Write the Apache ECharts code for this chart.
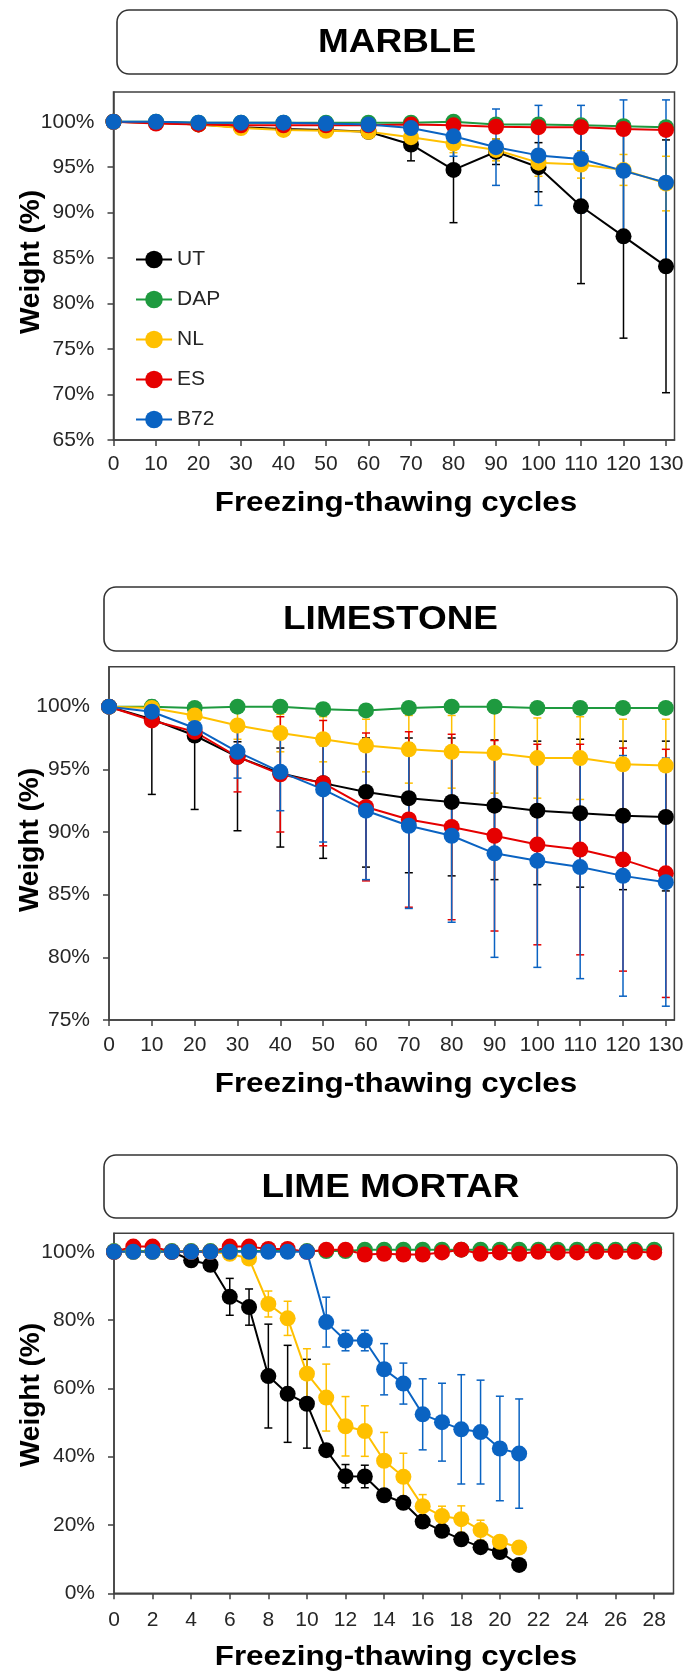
<!DOCTYPE html>
<html>
<head>
<meta charset="utf-8">
<script src="https://cdn.jsdelivr.net/npm/echarts@6/dist/echarts.min.js"></script>
<style>
  html, body { margin: 0; padding: 0; background: #ffffff; }
  #chart { width: 689px; height: 1675px; }
</style>
</head>
<body>
<div id="chart"></div>
<script>
// ---- Treatments ----
const treatmentNames = ['UT', 'DAP', 'NL', 'ES', 'B72'];
const treatmentColors = ['#000000', '#1e9a3f', '#ffc000', '#e50000', '#0a63c2'];

// ---- MARBLE (weight %, mean and standard deviation) ----
const marbleCycles = [0, 10, 20, 30, 40, 50, 60, 70, 80, 90, 100, 110, 120, 130];
const marbleUT     = [100, 99.9, 99.7, 99.4, 99.2, 99.1, 98.9, 97.5, 94.7, 96.7, 95.0, 90.7, 87.4, 84.1];
const marbleUTErr  = [0, 0.1, 0.1, 0.1, 0.1, 0.1, 0.2, 1.8, 5.8, 1.4, 2.7, 8.5, 11.2, 13.9];
const marbleDAP    = [100, 100, 99.9, 99.9, 99.9, 99.9, 99.9, 99.9, 100, 99.7, 99.7, 99.6, 99.5, 99.4];
const marbleDAPErr = [0, 0.1, 0.1, 0.1, 0.1, 0.1, 0.1, 0.1, 0.2, 0.2, 0.2, 0.2, 0.2, 0.2];
const marbleNL     = [100, 99.9, 99.7, 99.3, 99.1, 99.0, 98.9, 98.3, 97.6, 96.9, 95.5, 95.3, 94.7, 93.2];
const marbleNLErr  = [0, 0, 0.1, 0.1, 0.1, 0.2, 0.2, 0.5, 1.0, 1.2, 1.5, 1.5, 1.7, 3.0];
const marbleES     = [100, 99.8, 99.7, 99.6, 99.6, 99.6, 99.6, 99.7, 99.6, 99.45, 99.4, 99.4, 99.2, 99.1];
const marbleESErr  = [0, 0.1, 0.1, 0.1, 0.1, 0.1, 0.1, 0.1, 0.2, 0.2, 0.2, 0.2, 0.2, 0.2];
const marbleB72    = [100, 100, 99.9, 99.9, 99.9, 99.8, 99.7, 99.3, 98.4, 97.2, 96.3, 95.9, 94.6, 93.3];
const marbleB72Err = [0, 0, 0, 0, 0, 0, 0.1, 0.4, 2.2, 4.2, 5.5, 5.9, 7.8, 9.1];
const marbleYTicks = [65, 70, 75, 80, 85, 90, 95, 100];
const marbleXTicks = [0, 10, 20, 30, 40, 50, 60, 70, 80, 90, 100, 110, 120, 130];

// ---- LIMESTONE ----
const limestoneCycles = [0, 10, 20, 30, 40, 50, 60, 70, 80, 90, 100, 110, 120, 130];
const limestoneUT        = [100, 99.0, 97.7, 96.0, 94.7, 93.9, 93.2, 92.7, 92.4, 92.1, 91.7, 91.5, 91.3, 91.2];
const limestoneUTErr     = [0, 6.0, 5.9, 5.9, 5.9, 6.0, 6.0, 5.95, 5.9, 5.9, 5.9, 5.9, 5.9, 5.9];
const limestoneUTErrPlus = [0, 1.5, 0.8, 1.2, 2.0, 3.0, 4.3, 4.8, 5.1, 5.25, 5.55, 5.9, 5.95, 6.05];
const limestoneDAP    = [100, 100, 99.9, 100, 100, 99.8, 99.7, 99.9, 100, 100, 99.9, 99.9, 99.9, 99.9];
const limestoneDAPErr = [0, 0.1, 0.1, 0.1, 0.1, 0.1, 0.1, 0.1, 0.1, 0.1, 0.1, 0.1, 0.1, 0.1];
const limestoneNL     = [100, 99.9, 99.3, 98.5, 97.9, 97.4, 96.9, 96.6, 96.4, 96.3, 95.9, 95.9, 95.4, 95.3];
const limestoneNLErr  = [0, 0.3, 0.6, 1.1, 1.5, 1.8, 2.1, 2.7, 2.9, 3.2, 3.2, 3.3, 3.6, 3.7];
const limestoneES     = [100, 98.9, 98.0, 96.0, 94.6, 93.9, 92.0, 91.0, 90.4, 89.7, 89.0, 88.6, 87.8, 86.7];
const limestoneESErr  = [0, 0.3, 0.5, 2.8, 4.6, 5.0, 5.9, 7.0, 7.4, 7.6, 8.0, 8.4, 8.9, 9.9];
const limestoneB72    = [100, 99.6, 98.3, 96.4, 94.8, 93.4, 91.7, 90.5, 89.7, 88.3, 87.7, 87.2, 86.5, 86.0];
const limestoneB72Err = [0, 0.2, 0.5, 2.1, 3.1, 4.2, 5.5, 6.6, 6.9, 8.3, 8.5, 8.9, 9.6, 9.9];
const limestoneYTicks = [75, 80, 85, 90, 95, 100];
const limestoneXTicks = [0, 10, 20, 30, 40, 50, 60, 70, 80, 90, 100, 110, 120, 130];

// ---- LIME MORTAR ----
const mortarCycles = [0, 1, 2, 3, 4, 5, 6, 7, 8, 9, 10, 11, 12, 13, 14, 15, 16, 17, 18, 19, 20, 21, 22, 23, 24, 25, 26, 27, 28];
const mortarUT     = [100, 100, 100, 100, 97.5, 96.2, 86.8, 83.8, 63.6, 58.4, 55.5, 41.9, 34.3, 34.2, 28.7, 26.5, 21.0, 18.3, 15.8, 13.5, 12.1, 8.3];
const mortarUTErr  = [0, 0, 0, 0, 0.5, 0.5, 5.4, 5.3, 15.2, 14.2, 13.0, 0.5, 3.4, 3.3, 1.5, 1.0, 1.0, 1.0, 1.0, 1.0, 1.0, 1.0];
const mortarDAP    = [100.2, 100.2, 100.2, 100.2, 100.2, 100.2, 100.2, 100.2, 100.2, 100.2, 100.2, 100.2, 100.2,
                      100.6, 100.6, 100.6, 100.6, 100.6, 100.6, 100.6, 100.6, 100.6, 100.6, 100.6, 100.6, 100.6, 100.6, 100.6, 100.6];
const mortarNL     = [100, 100, 100, 100, 100, 100, 99.4, 98.0, 84.7, 80.5, 64.3, 57.3, 48.9, 47.5, 38.8, 34.1, 25.5, 22.6, 21.7, 18.5, 15.1, 13.4];
const mortarNLErr  = [0, 0, 0, 0, 0, 0, 0.3, 0.5, 3.8, 5.0, 7.3, 9.8, 8.7, 7.4, 8.3, 6.9, 3.4, 2.9, 3.9, 2.9, 1.5, 1.5];
const mortarES     = [100, 101.5, 101.5, 100, 100, 100, 101.5, 101.5, 100.8, 100.8, 100, 100.6, 100.6, 99.2, 99.4, 99.2,
                      99.2, 99.8, 100.6, 99.4, 99.8, 99.4, 100, 99.8, 99.8, 100, 100, 100, 99.8];
const mortarB72    = [100, 100, 100, 100, 100, 100, 100, 100, 100, 100, 100, 79.4, 74.0, 74.0, 65.6, 61.4, 52.4, 50.1, 48.0, 47.2, 42.4, 40.9];
const mortarB72Err = [0, 0, 0, 0, 0, 0, 0, 0, 0, 0, 0, 7.3, 3.0, 3.0, 7.5, 6.0, 10.4, 11.4, 16.0, 15.2, 15.3, 16.0];
const mortarYTicks = [0, 20, 40, 60, 80, 100];
const mortarXTicks = [0, 2, 4, 6, 8, 10, 12, 14, 16, 18, 20, 22, 24, 26, 28];

// ---- Panel layout ----
const FONT = '"Liberation Sans", Arial, sans-serif';
const AXIS_COLOR = '#404040';
const LABEL_COLOR = '#262626';

const panels = [
  {
    title: 'MARBLE', box: [117, 10, 560, 64],
    grid: { left: 113.5, top: 92, width: 561, height: 348 },
    xMax: 132, yMin: 65, yMax: 103.27, xTicks: marbleXTicks, yTicks: marbleYTicks,
    xLabelMargin: 14, xTitleY: 503, yTitleX: 31, yTitleY: 262,
    cycles: marbleCycles,
    series: [
      [marbleUT, marbleUTErr], [marbleDAP, marbleDAPErr], [marbleNL, marbleNLErr],
      [marbleES, marbleESErr], [marbleB72, marbleB72Err]
    ]
  },
  {
    title: 'LIMESTONE', box: [104, 587, 573, 64],
    grid: { left: 109, top: 666.7, width: 565.4, height: 353.3 },
    xMax: 132, yMin: 75, yMax: 103.19, xTicks: limestoneXTicks, yTicks: limestoneYTicks,
    xLabelMargin: 15, xTitleY: 1084, yTitleX: 30, yTitleY: 840,
    cycles: limestoneCycles,
    series: [
      [limestoneUT, limestoneUTErr, limestoneUTErrPlus], [limestoneDAP, limestoneDAPErr],
      [limestoneNL, limestoneNLErr], [limestoneES, limestoneESErr], [limestoneB72, limestoneB72Err]
    ]
  },
  {
    title: 'LIME MORTAR', box: [104, 1155, 573, 63],
    grid: { left: 114, top: 1233.3, width: 559.5, height: 360 },
    xMax: 29, yMin: 0, yMax: 105.4, xTicks: mortarXTicks, yTicks: mortarYTicks,
    xLabelMargin: 16, xTitleY: 1657, yTitleX: 31, yTitleY: 1395,
    cycles: mortarCycles,
    series: [
      [mortarUT, mortarUTErr], [mortarDAP, null], [mortarNL, mortarNLErr],
      [mortarES, null], [mortarB72, mortarB72Err]
    ]
  }
];

// Draws one vertical error bar with caps, clipped to the value axis range.
function makeErrorBar(color, yMin, yMax) {
  return function (params, api) {
    const x = api.value(0), lo = api.value(1), hi = api.value(2);
    const loC = Math.max(lo, yMin), hiC = Math.min(hi, yMax);
    const pLo = api.coord([x, loC]);
    const pHi = api.coord([x, hiC]);
    const half = 4;
    const style = { stroke: color, lineWidth: 1.5 };
    const children = [
      { type: 'line', shape: { x1: pLo[0], y1: pLo[1], x2: pHi[0], y2: pHi[1] }, style: style }
    ];
    if (lo >= yMin) {
      children.push({ type: 'line', shape: { x1: pLo[0] - half, y1: pLo[1], x2: pLo[0] + half, y2: pLo[1] }, style: style });
    }
    if (hi <= yMax) {
      children.push({ type: 'line', shape: { x1: pHi[0] - half, y1: pHi[1], x2: pHi[0] + half, y2: pHi[1] }, style: style });
    }
    return { type: 'group', children: children };
  };
}

const grids = [], xAxes = [], yAxes = [], series = [], graphics = [];

panels.forEach(function (p, pi) {
  grids.push(Object.assign({ show: true, borderColor: AXIS_COLOR, borderWidth: 1.5, backgroundColor: 'transparent' }, p.grid));

  xAxes.push({
    type: 'value', gridIndex: pi, min: 0, max: p.xMax,
    axisLine: { show: true, onZero: false, lineStyle: { color: AXIS_COLOR, width: 1.5 } },
    axisTick: { show: true, length: 6, customValues: p.xTicks, lineStyle: { color: AXIS_COLOR, width: 1.5 } },
    axisLabel: { customValues: p.xTicks, margin: p.xLabelMargin, fontFamily: FONT, fontSize: 21, color: LABEL_COLOR },
    splitLine: { show: false }
  });
  yAxes.push({
    type: 'value', gridIndex: pi, min: p.yMin, max: p.yMax,
    axisLine: { show: true, onZero: false, lineStyle: { color: AXIS_COLOR, width: 1.5 } },
    axisTick: { show: true, length: 6, customValues: p.yTicks, lineStyle: { color: AXIS_COLOR, width: 1.5 } },
    axisLabel: { customValues: p.yTicks, margin: 19, fontFamily: FONT, fontSize: 21, color: LABEL_COLOR, formatter: '{value}%' },
    splitLine: { show: false }
  });

  // error bars sit beneath the lines and markers
  p.series.forEach(function (s, si) {
    const mean = s[0], errMinus = s[1], errPlus = s[2] || s[1];
    if (!errMinus) return;
    const bars = mean.map(function (v, i) { return [p.cycles[i], v - errMinus[i], v + errPlus[i]]; });
    series.push({
      type: 'custom', name: treatmentNames[si] + ' SD', xAxisIndex: pi, yAxisIndex: pi,
      z: 1, silent: true,
      encode: { x: 0, y: [1, 2] },
      renderItem: makeErrorBar(treatmentColors[si], p.yMin, p.yMax),
      data: bars
    });
  });

  p.series.forEach(function (s, si) {
    const mean = s[0];
    series.push({
      type: 'line', name: treatmentNames[si], xAxisIndex: pi, yAxisIndex: pi, z: 2,
      symbol: 'circle', symbolSize: 16, showAllSymbol: true,
      color: treatmentColors[si],
      itemStyle: { color: treatmentColors[si] },
      lineStyle: { color: treatmentColors[si], width: 2 },
      data: mean.map(function (v, i) { return [p.cycles[i], v]; })
    });
  });

  // title box
  graphics.push({
    type: 'rect', z: 10,
    shape: { x: p.box[0], y: p.box[1], width: p.box[2], height: p.box[3], r: 12 },
    style: { fill: '#ffffff', stroke: '#333333', lineWidth: 1.6 }
  });
  graphics.push({
    type: 'text', z: 11, x: p.box[0] + p.box[2] / 2, y: p.box[1] + p.box[3] / 2 + 1, scaleX: 1.12,
    style: { text: p.title, font: 'bold 33px ' + FONT, fill: '#000000',
             textAlign: 'center', textVerticalAlign: 'middle', align: 'center', verticalAlign: 'middle' }
  });
  // axis titles
  graphics.push({
    type: 'text', z: 11, x: 396, y: p.xTitleY, scaleX: 1.12,
    style: { text: 'Freezing-thawing cycles', font: 'bold 28px ' + FONT, fill: '#000000',
             textAlign: 'center', textVerticalAlign: 'middle', align: 'center', verticalAlign: 'middle' }
  });
  graphics.push({
    type: 'text', z: 11, x: p.yTitleX, y: p.yTitleY, rotation: Math.PI / 2,
    style: { text: 'Weight (%)', font: 'bold 28px ' + FONT, fill: '#000000',
             textAlign: 'center', textVerticalAlign: 'middle', align: 'center', verticalAlign: 'middle' }
  });
});

const chart = echarts.init(document.getElementById('chart'), null, { renderer: 'canvas' });
chart.setOption({
  animation: false,
  backgroundColor: '#ffffff',
  grid: grids,
  xAxis: xAxes,
  yAxis: yAxes,
  legend: {
    data: treatmentNames,
    orient: 'vertical',
    left: 130, top: 243.5,
    itemWidth: 36, itemHeight: 22, itemGap: 18,
    selectedMode: false,
    textStyle: { fontFamily: FONT, fontSize: 21, lineHeight: 22, color: LABEL_COLOR }
  },
  graphic: graphics,
  series: series
});
</script>
</body>
</html>
